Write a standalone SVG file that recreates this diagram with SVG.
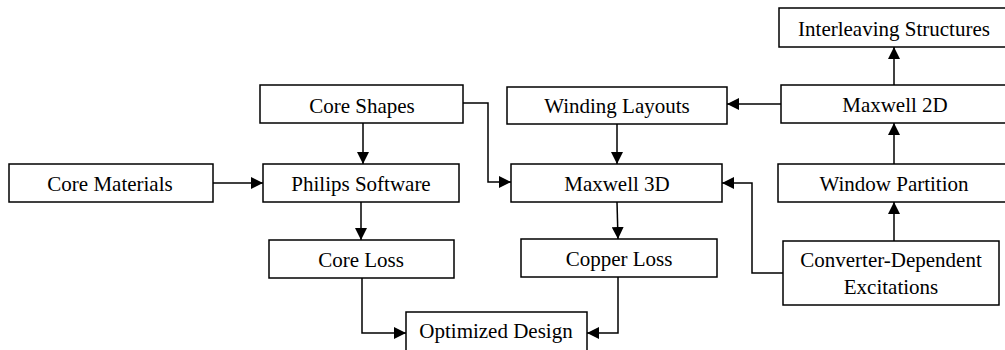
<svg xmlns="http://www.w3.org/2000/svg" width="1005" height="350" viewBox="0 0 1005 350">
  <style>
    .box { fill: #ffffff; stroke: #000000; stroke-width: 1.5; }
    .lbl { font-family: "Liberation Serif", "Times New Roman", serif; font-size: 21px; fill: #000000; text-anchor: middle; }
    .wire { fill: none; stroke: #000000; stroke-width: 1.5; marker-end: url(#arrow); }
  </style>
  <defs>
    <marker id="arrow" markerUnits="userSpaceOnUse" markerWidth="12" markerHeight="12" refX="12" refY="6" orient="auto">
      <path d="M0,0 L12,6 L0,12 z" fill="#000000"/>
    </marker>
  </defs>
  <rect width="1005" height="350" fill="#ffffff"/>

  <!-- connectors -->
  <g id="connectors">
    <path class="wire" d="M363,123 L363,164"/>
    <path class="wire" d="M213,183 L263,183"/>
    <path class="wire" d="M463,103 L488,103 L488,182 L511,182"/>
    <path class="wire" d="M361,202 L361,240"/>
    <path class="wire" d="M617,124 L617,164"/>
    <path class="wire" d="M781,104 L727,104"/>
    <path class="wire" d="M894,85 L894,47"/>
    <path class="wire" d="M894,164 L894,123"/>
    <path class="wire" d="M894,241 L894,202"/>
    <path class="wire" d="M783,273 L752,273 L752,183 L722,183"/>
    <path class="wire" d="M617,202 L618,239"/>
    <path class="wire" d="M362,278 L362,333 L406,333"/>
    <path class="wire" d="M618,277 L618,333 L587,333"/>
  </g>

  <!-- nodes -->
  <g id="interleaving-structures">
    <rect class="box" x="779" y="8" width="232" height="39"/>
    <text class="lbl" x="894" y="36">Interleaving Structures</text>
  </g>
  <g id="core-shapes">
    <rect class="box" x="260" y="85" width="203" height="38"/>
    <text class="lbl" x="362" y="113">Core Shapes</text>
  </g>
  <g id="winding-layouts">
    <rect class="box" x="507" y="87" width="220" height="37"/>
    <text class="lbl" x="617" y="113">Winding Layouts</text>
  </g>
  <g id="maxwell-2d">
    <rect class="box" x="781" y="85" width="230" height="38"/>
    <text class="lbl" x="895" y="112">Maxwell 2D</text>
  </g>
  <g id="core-materials">
    <rect class="box" x="9" y="164" width="204" height="38"/>
    <text class="lbl" x="110" y="191">Core Materials</text>
  </g>
  <g id="philips-software">
    <rect class="box" x="263" y="164" width="196" height="38"/>
    <text class="lbl" x="361" y="191">Philips Software</text>
  </g>
  <g id="maxwell-3d">
    <rect class="box" x="511" y="164" width="211" height="38"/>
    <text class="lbl" x="617" y="191">Maxwell 3D</text>
  </g>
  <g id="window-partition">
    <rect class="box" x="778" y="164" width="233" height="38"/>
    <text class="lbl" x="894" y="191">Window Partition</text>
  </g>
  <g id="core-loss">
    <rect class="box" x="269" y="240" width="185" height="38"/>
    <text class="lbl" x="361" y="267">Core Loss</text>
  </g>
  <g id="copper-loss">
    <rect class="box" x="521" y="239" width="196" height="38"/>
    <text class="lbl" x="619" y="266">Copper Loss</text>
  </g>
  <g id="converter-dependent-excitations">
    <rect class="box" x="783" y="241" width="216" height="64"/>
    <text class="lbl" x="891" y="267">Converter-Dependent</text>
    <text class="lbl" x="891" y="294">Excitations</text>
  </g>
  <g id="optimized-design">
    <rect class="box" x="406" y="312" width="181" height="45"/>
    <text class="lbl" x="496" y="338">Optimized Design</text>
  </g>
</svg>
